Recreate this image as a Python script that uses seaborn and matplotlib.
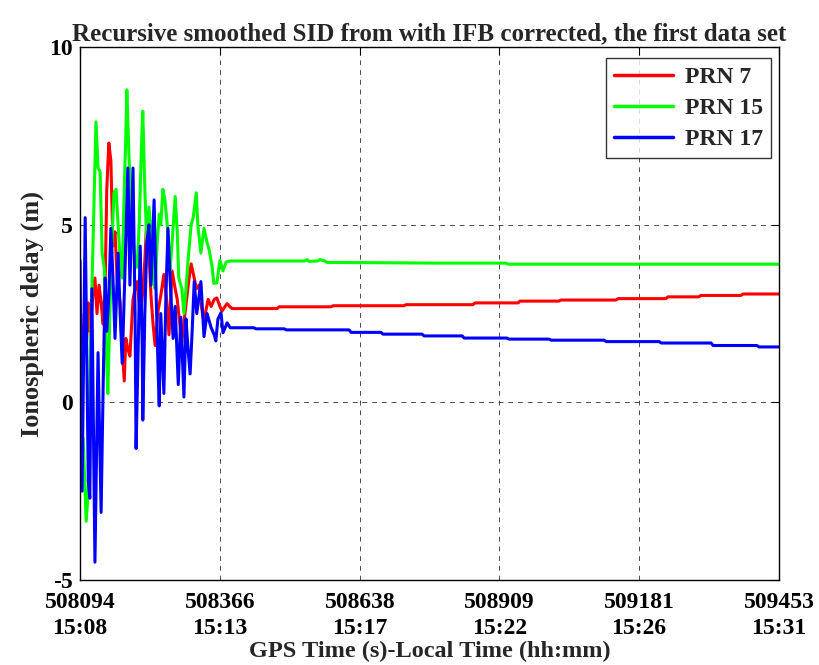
import numpy as np
import pandas as pd
import matplotlib
matplotlib.use("Agg")
import matplotlib.pyplot as plt
import seaborn as sns

T0 = 508094

# PRN 7 (red): seconds after T0, delay (m)
prn7_t = [0, 4, 8, 12, 16, 19, 25, 29, 33, 37, 41, 45, 49, 52, 56, 60, 64, 68, 72, 78,
          82, 86, 89, 93, 97, 103, 107, 111, 117, 122, 126, 130, 134, 138, 142, 146, 152,
          157, 163, 169, 173, 179, 185, 189, 194, 198, 204, 208, 212, 216, 222, 226, 231,
          237, 241, 245, 249, 255, 261, 266, 272, 276, 282, 286, 292, 296,
          383, 387, 488, 492, 630, 634, 764, 766, 768, 852, 855, 931, 935, 1042, 1046,
          1139, 1143, 1203, 1207, 1285, 1289, 1359]
prn7_v = [2.9, 0.5, 2.5, 1.5, 2.8, 2.0, 3.0, 3.5, 2.5, 3.3, 2.8, 2.2, 3.5, 6.0, 7.3, 6.8, 4.4, 4.8, 3.5, 2.8,
          1.5, 0.6, 1.8, 1.5, 1.3, 2.9, 3.2, 3.4, 2.5, 3.1, 4.0, 5.2, 4.2, 3.0, 2.2, 1.6, 2.6,
          3.0, 3.6, 2.8, 1.9, 3.7, 3.2, 2.9, 2.2, 1.7, 2.5, 3.0, 3.5, 3.9, 3.5, 3.2, 3.3,
          2.6, 2.25, 2.6, 2.9, 2.7, 2.9, 2.94, 2.7, 2.57, 2.7, 2.78, 2.68, 2.64,
          2.64, 2.69, 2.69, 2.72, 2.72, 2.75, 2.75, 2.78, 2.80, 2.80, 2.85, 2.85, 2.88, 2.88, 2.92,
          2.92, 2.97, 2.97, 3.01, 3.01, 3.05, 3.05]

# PRN 15 (green)
prn15_t = [6, 12, 16, 21, 27, 31, 35, 39, 43, 47, 51, 54, 58, 62, 66, 70, 74, 78, 82, 86,
           89, 91, 95, 99, 103, 107, 111, 115, 119, 122, 126, 130, 134, 138, 142, 146, 150,
           154, 157, 161, 165, 169, 173, 175, 179, 185, 189, 192, 198, 202, 206, 210, 216,
           220, 226, 229, 235, 241, 247, 251, 257, 260, 266, 272, 278, 284, 292,
           437, 441, 445, 462, 466, 476, 480, 700, 828, 832, 1359]
prn15_v = [-1.0, -3.35, -2.5, 2.0, 5.5, 7.9, 6.6, 6.5, 4.2, 3.8, 1.5, 0.25, 2.5, 4.5, 5.9, 6.0, 5.0, 4.0, 3.5, 6.0,
           7.5, 8.8, 7.0, 5.5, 4.5, 4.0, 3.8, 5.0, 7.0, 8.2, 6.0, 4.4, 5.5, 4.8, 3.6, 3.2, 4.5,
           5.3, 5.0, 6.0, 5.7, 5.1, 4.2, 3.7, 4.5, 5.8, 4.8, 3.5, 3.2, 2.5, 3.2, 4.0, 5.0,
           5.2, 5.9, 5.0, 4.2, 4.9, 4.5, 4.3, 3.8, 3.35, 3.36, 4.0, 3.7, 3.95, 3.98,
           3.98, 4.02, 3.97, 3.98, 4.02, 3.98, 3.94, 3.92, 3.92, 3.89, 3.89]

# PRN 17 (blue)
prn17_t = [0, 4, 10, 16, 19, 23, 29, 35, 41, 45, 49, 52, 56, 60, 64, 68, 74, 78, 82, 87,
           93, 97, 103, 107, 109, 113, 117, 121, 122, 126, 130, 134, 138, 144, 148, 152, 154,
           157, 163, 167, 171, 175, 181, 185, 191, 196, 202, 206, 210, 214, 218, 222, 227,
           235, 241, 247, 255, 261, 264, 268, 274, 278, 286, 292,
           338, 342, 397, 401, 523, 527, 585, 589, 665, 669, 743, 747, 830, 834, 912, 916,
           1019, 1023, 1126, 1130, 1227, 1231, 1316, 1320, 1359]
prn17_v = [4.0, -2.5, 5.2, -2.2, -2.7, 3.2, -4.5, 1.4, -3.1, 0.5, 3.5, 2.0, 3.0, 4.9, 3.5, 1.8, 4.2, 2.5, 1.1, 3.5,
           6.6, 3.3, 6.6, 2.5, -1.3, 1.5, 4.4, 1.5, -0.5, 2.5, 4.5, 5.0, 3.3, 5.7, 3.0, 0.8, -0.1,
           2.5, 0.25, 3.0, 4.9, 3.5, 1.8, 2.7, 0.5, 2.4, 0.15, 2.35, 1.5, 0.8, 2.0, 3.4, 2.5,
           3.4, 1.85, 2.5, 2.1, 1.9, 1.73, 2.34, 2.52, 1.96, 2.24, 2.10,
           2.10, 2.07, 2.07, 2.04, 2.04, 1.97, 1.97, 1.92, 1.92, 1.87, 1.87, 1.81, 1.81, 1.78, 1.78, 1.75,
           1.75, 1.71, 1.71, 1.67, 1.67, 1.60, 1.60, 1.56, 1.56]

series_names = ["PRN 7", "PRN 15", "PRN 17"]
series_colors = ["#ff0000", "#00ff00", "#0000ff"]

xticks = [508094, 508366, 508638, 508909, 509181, 509453]
xtick_labels = ["508094\n15:08", "508366\n15:13", "508638\n15:17",
                "508909\n15:22", "509181\n15:26", "509453\n15:31"]
yticks = [-5, 0, 5, 10]

frames = []
for name, t, v in zip(series_names, [prn7_t, prn15_t, prn17_t], [prn7_v, prn15_v, prn17_v]):
    frames.append(pd.DataFrame({"t": np.array(t) + T0, "v": v, "series": name}))
df = pd.concat(frames, ignore_index=True)

sns.set_theme(style="white")
plt.rcParams["font.family"] = ["Liberation Serif", "DejaVu Serif"]
plt.rcParams["font.weight"] = "bold"

fig = plt.figure(figsize=(8.2, 6.65), dpi=100)
ax = fig.add_axes([0.0976, 0.128, 0.8524, 0.801])

sns.lineplot(data=df, x="t", y="v", hue="series", hue_order=series_names,
             palette=dict(zip(series_names, series_colors)), estimator=None,
             sort=False, linewidth=2.2, ax=ax)

ax.set_xlim(xticks[0], xticks[-1])
ax.set_ylim(-5, 10)
ax.set_xticks(xticks)
ax.set_xticklabels(xtick_labels, fontsize=17, fontweight="bold", linespacing=1.3)
ax.set_yticks(yticks)
ax.set_yticklabels([str(y) for y in yticks], fontsize=17, fontweight="bold")
ax.tick_params(axis="x", pad=9)
ax.tick_params(axis="y", pad=5)
ax.tick_params(direction="in", top=True, right=True, length=6, width=0.8, colors="black")

ax.grid(True, color="black", linestyle=(0, (5, 5)), linewidth=0.7, alpha=0.7)
for s in ax.spines.values():
    s.set_color("black")
    s.set_linewidth(1.0)

ax.set_xlabel("GPS Time (s)-Local Time (hh:mm)", fontsize=17.5, fontweight="bold", labelpad=1)
ax.set_ylabel("Ionospheric delay (m)", fontsize=19, fontweight="bold", labelpad=4)
ax.set_title("Recursive smoothed SID from with IFB corrected, the first data set",
             fontsize=18, fontweight="bold", pad=5)

leg = ax.legend(loc="upper right", bbox_to_anchor=(0.9886, 0.979), borderaxespad=0,
                fontsize=17, frameon=True, fancybox=False, edgecolor="black",
                handlelength=2.5, borderpad=0.35, labelspacing=0.4, handletextpad=0.5)
leg.get_frame().set_linewidth(1.0)
for line in leg.get_lines():
    line.set_linewidth(2.5)
for txt in leg.get_texts():
    txt.set_fontweight("bold")

fig.savefig("out.png", dpi=100)
